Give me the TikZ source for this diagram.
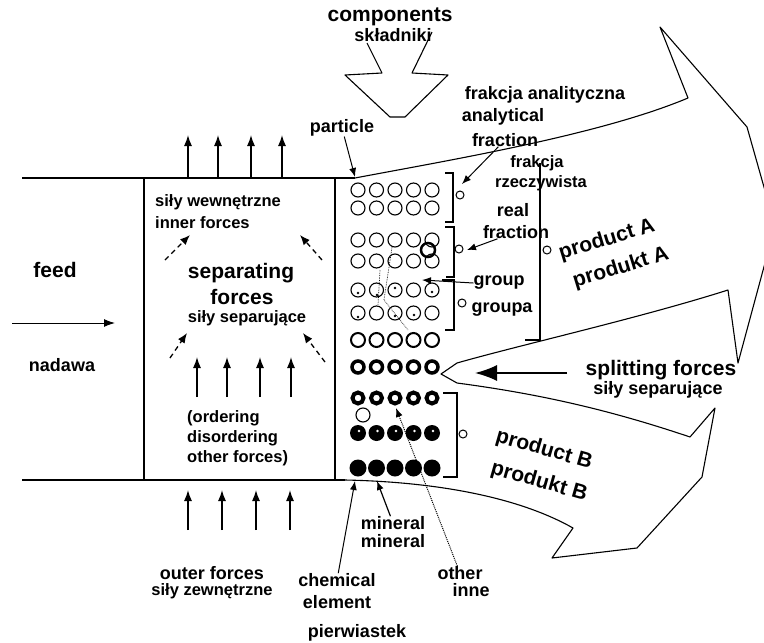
\documentclass[tikz,border=0pt]{standalone}
\usepackage{fontspec}
\setmainfont{Liberation Sans}
\usetikzlibrary{arrows.meta}

\begin{document}
\begin{tikzpicture}[x=1pt, y=-1pt,
        lbl/.style={font=\bfseries\fontsize{18}{20}\selectfont, inner sep=0pt},
        biglbl/.style={font=\bfseries\fontsize{21}{23}\selectfont, inner sep=0pt},
        smalllbl/.style={font=\bfseries\fontsize{16.5}{18}\selectfont, inner sep=0pt},
        >={Latex[length=11pt, width=8pt]},
        edge/.style={line width=1.5pt},
        outline/.style={line width=1.1pt, line join=round},
        bracket/.style={line width=1.1pt},
        force/.style={line width=1.4pt, ->},
        inner/.style={line width=1.3pt, dash pattern=on 5pt off 4pt, -{Latex[length=10pt, width=8pt]}}]
    \useasboundingbox (0, 0) rectangle (764, 643);
    \clip (0, 0) rectangle (764, 643);

    % channel
    \draw[edge] (22, 178) -- (355, 178);
    \draw[edge] (22, 480) -- (345, 480);
    \draw[edge] (144, 178) -- (144, 480);
    \draw[edge] (335, 178) -- (335, 480);

    % product arrows
    \draw[outline] (355, 178) .. controls (450, 160) and (600, 135) .. (688, 98) -- (660, 27)
        -- (747, 127) -- (775, 226) -- (738, 363) -- (728, 290)
        .. controls (640, 318) and (520, 345) .. (457, 363) -- (441, 374) -- (457, 383)
        .. controls (540, 394) and (610, 410) .. (690, 437) -- (715, 408) -- (702, 477)
        -- (637, 548) -- (552, 558) -- (573, 528) .. controls (520, 498) and (440, 482) .. (345, 480);

    % components
    \draw[outline] (367, 43) -- (382, 73) -- (345, 75) -- (390, 117) -- (405, 117) -- (448, 75) -- (412, 73) -- (432, 32);
    \node (comp) at (390, 17) [biglbl] {components};
    \node (skl) at (393, 35) [lbl] {składniki};

    % feed
    \node (feed) at (55, 270) [biglbl] {feed};
    \node (nadawa) at (62, 365) [lbl] {nadawa};
    \coordinate (fin) at (12, 323);
    \coordinate (fout) at (115, 323);
    \draw[line width=1pt, ->] (fin) -- (fout);

    % forces in the box
    \foreach \x in {188, 218, 251, 282}
        \draw[force] (\x, 178) -- (\x, 135);
    \foreach \x in {197, 227, 260, 291}
        \draw[force] (\x, 397) -- (\x, 357);
    \foreach \x in {188, 222, 256, 290}
        \draw[force] (\x, 530) -- (\x, 490);
    \draw[inner] (165, 260) -- (190, 235);
    \draw[inner] (322, 260) -- (300, 235);
    \draw[inner] (170, 358) -- (187, 333);
    \draw[inner] (325, 362) -- (303, 333);

    \node (wew) at (155, 202) [smalllbl, anchor=west] {siły wewnętrzne};
    \node (inner) at (155, 223) [smalllbl, anchor=west] {inner forces};
    \node (sep) at (241, 273) [biglbl] {separating};
    \node (sepf) at (242, 297) [biglbl] {forces};
    \node (sepp) at (247, 318) [smalllbl] {siły separujące};
    \node (ord) at (187, 418) [smalllbl, anchor=west] {(ordering};
    \node (dis) at (187, 438) [smalllbl, anchor=west] {disordering};
    \node (oth) at (187, 458) [smalllbl, anchor=west] {other forces)};
    \node (outer) at (212, 573) [lbl] {outer forces};
    \node (zew) at (212, 591) [smalllbl] {siły zewnętrzne};

    % particles
    \foreach \y in {190, 208, 240, 261, 290, 313}
        \foreach \x in {358, 376.5, 395, 413.5, 432}
            \draw[line width=1.1pt] (\x, \y) circle (7pt);
    \foreach \x in {358, 376.5, 395, 413.5, 432} {
        \draw[line width=2pt] (\x, 340) circle (7pt);
        \draw[line width=3.5pt] (\x, 367) circle (6pt);
        \draw[line width=4pt] (\x, 398) circle (5.5pt);
        \fill (\x, 433) circle (8pt);
        \fill[white] (\x+1, 431) circle (1.3pt);
        \fill (\x, 468) circle (8.5pt);
    }
    \draw[line width=1.1pt] (363, 415) circle (7pt);
    \draw[line width=2.5pt] (428, 250) circle (7pt);
    \foreach \x/\y in {358/293, 377/295, 395/288, 432/292, 358/317, 395/316, 414/315}
        \fill (\x, \y) circle (1.4pt);
    \draw[densely dotted, line width=0.7pt] (392, 247) -- (384, 300) -- (408, 330);
    \draw[densely dotted, line width=0.7pt] (380, 270) -- (378, 305);

    % fractions
    \draw[bracket] (445, 173) -- (453, 173) -- (453, 222) -- (445, 222);
    \draw[bracket] (445, 227) -- (454, 227) -- (454, 277) -- (446, 277);
    \draw[bracket] (442, 280) -- (454, 280) -- (454, 330) -- (445, 330);
    \draw[bracket] (443, 393) -- (457, 393) -- (457, 477) -- (443, 477);
    \draw[bracket] (540, 163) -- (540, 340) -- (525, 340);
    \foreach \x/\y in {460/195, 459/249, 462/303, 463/434, 547/250}
        \draw[line width=1pt] (\x, \y) circle (4pt);

    % labels
    \node (particle) at (342, 128) [lbl] {particle};
    \node (frakan) at (545, 95) [lbl] {frakcja analityczna};
    \node (analyt) at (503, 117) [lbl] {analytical};
    \node (afrac) at (505, 140) [lbl] {fraction};
    \node (frakrz) at (537, 163) [smalllbl] {frakcja};
    \node (rzecz) at (541, 183) [smalllbl] {rzeczywista};
    \node (real) at (513, 210) [lbl] {real};
    \node (rfrac) at (516, 232) [lbl] {fraction};
    \node (group) at (499, 283) [lbl] {group};
    \node (groupa) at (502, 310) [lbl] {groupa};
    \node (prodA) at (607, 240) [biglbl, rotate=17] {product A};
    \node (produktA) at (621, 268) [biglbl, rotate=17] {produkt A};
    \node (split) at (661, 370) [biglbl] {splitting forces};
    \node (splitpl) at (658, 390) [lbl] {siły separujące};
    \node (prodB) at (544, 450) [biglbl, rotate=-16] {product B};
    \node (produktB) at (539, 482) [biglbl, rotate=-16] {produkt B};
    \node (miner) at (393, 523) [lbl] {mineral};
    \node (mineral) at (393, 541) [lbl] {mineral};
    \node (chem) at (337, 580) [lbl] {chemical};
    \node (elem) at (337, 602) [lbl] {element};
    \node (pierw) at (357, 633) [lbl] {pierwiastek};
    \node (other) at (460, 573) [lbl] {other};
    \node (inne) at (471, 590) [lbl] {inne};

    % pointers
    \coordinate (ppart) at (355, 177);
    \coordinate (pan) at (462, 184);
    \coordinate (preal) at (467, 250);
    \coordinate (pgroup) at (422, 280);
    \coordinate (sfrom) at (567, 373);
    \coordinate (sto) at (475, 373);
    \coordinate (pmin) at (377, 481);
    \coordinate (pchem) at (355, 481);
    \coordinate (poth) at (396, 408);
    \draw[line width=1pt, -{Latex[length=9pt, width=7pt]}] (particle) -- (ppart);
    \draw[line width=1pt, -{Latex[length=9pt, width=7pt]}] (afrac) -- (pan);
    \draw[line width=1pt, -{Latex[length=9pt, width=7pt]}] (rfrac) -- (preal);
    \draw[line width=1pt, -{Latex[length=9pt, width=7pt]}] (group.west) -- (pgroup);
    \draw[line width=1.5pt, -{Latex[length=22pt, width=16pt]}] (sfrom) -- (sto);
    \draw[line width=1.2pt, -{Latex[length=9pt, width=7pt]}] (miner) -- (pmin);
    \draw[line width=1pt, -{Latex[length=9pt, width=7pt]}] (chem) -- (pchem);
    \draw[densely dotted, line width=1pt, -{Latex[length=9pt, width=7pt]}] (other) -- (poth);
\end{tikzpicture}
\end{document}
